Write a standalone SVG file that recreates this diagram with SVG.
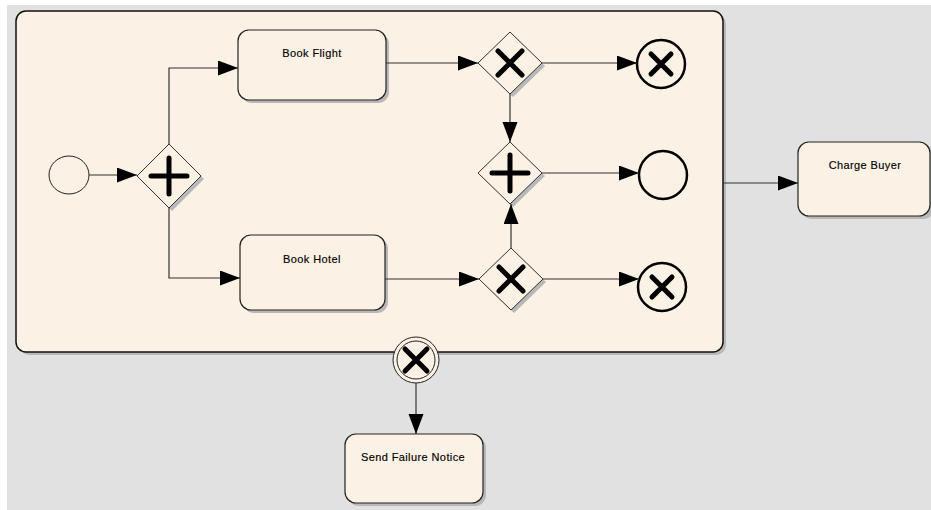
<svg xmlns="http://www.w3.org/2000/svg" width="931" height="510" viewBox="0 0 931 510">
<defs>
<style>
.bg{fill:#e1e1e1}
.sub{fill:#fbf1e4;stroke:#111;stroke-width:1.5}
.shadow{fill:#b8b8b8}
.task{fill:#fbf1e4;stroke:#222;stroke-width:1.2}
.gw{fill:#fbf1e4;stroke:#333;stroke-width:1}
.mark{stroke:#000;stroke-width:5;stroke-linecap:round;fill:none}
.end{fill:#fbf1e4;stroke:#000;stroke-width:2.5}
.thin{fill:#fbf1e4;stroke:#222;stroke-width:1}
.lbl{font-family:"Liberation Sans",Arial,sans-serif;font-size:11px;fill:#000;text-anchor:middle;letter-spacing:0.4px;stroke:#000;stroke-width:0.15}
.conn{fill:none;stroke:#333;stroke-width:1.2}
</style>
<marker id="arr" markerUnits="userSpaceOnUse" markerWidth="20" markerHeight="16" refX="20" refY="7.5" orient="auto">
<path d="M0,0 L20,7.5 L0,15 z" fill="#000"/>
</marker>
</defs>
<rect x="0" y="0" width="931" height="510" fill="#fff"/>
<rect class="bg" x="7" y="5" width="924" height="505"/>

<g id="subprocess">
<rect class="shadow" x="19" y="14" width="707" height="341" rx="10"/>
<rect class="sub" x="16" y="11" width="707" height="341" rx="10"/>
</g>

<g id="start">
<ellipse class="thin" cx="69" cy="175" rx="20" ry="19"/>
</g>

<g id="gw-split">
<polygon class="shadow" points="172,147 204,179 172,211 140,179"/>
<polygon class="gw" points="169,144 201,176 169,208 137,176"/>
<path class="mark" d="M151,176 H187 M169,158 V194"/>
</g>

<g id="book-flight">
<rect class="shadow" x="241" y="33" width="148" height="70" rx="11"/>
<rect class="task" x="238" y="30" width="148" height="70" rx="11"/>
<text class="lbl" x="312" y="57">Book Flight</text>
</g>

<g id="book-hotel">
<rect class="shadow" x="243" y="238" width="145" height="75" rx="11"/>
<rect class="task" x="240" y="235" width="145" height="75" rx="11"/>
<text class="lbl" x="312" y="263">Book Hotel</text>
</g>

<g id="xor1">
<polygon class="shadow" points="513,35 545,66 513,97 481,66"/>
<polygon class="gw" points="510,32 542,63 510,94 478,63"/>
<path class="mark" d="M498,51 L522,75 M522,51 L498,75"/>
</g>

<g id="par2">
<polygon class="shadow" points="513,145 545,176 513,207 481,176"/>
<polygon class="gw" points="510,142 542,173 510,204 478,173"/>
<path class="mark" d="M492,173 H528 M510,155 V191"/>
</g>

<g id="xor2">
<polygon class="shadow" points="514,251 546,282 514,313 482,282"/>
<polygon class="gw" points="511,248 543,279 511,310 479,279"/>
<path class="mark" d="M499,267 L523,291 M523,267 L499,291"/>
</g>

<g id="end1">
<circle class="end" cx="661" cy="64" r="24"/>
<path class="mark" d="M651,54 L671,74 M671,54 L651,74"/>
</g>

<g id="end2">
<circle class="end" cx="663" cy="175" r="24"/>
</g>

<g id="end3">
<circle class="end" cx="662" cy="287" r="24"/>
<path class="mark" d="M652,277 L672,297 M672,277 L652,297"/>
</g>

<g id="boundary">
<circle class="thin" cx="416" cy="360" r="23"/>
<circle class="thin" cx="416" cy="360" r="19"/>
<path class="mark" d="M405,349 L427,371 M427,349 L405,371"/>
</g>

<g id="charge-buyer">
<rect class="shadow" x="801" y="145" width="133" height="74" rx="11"/>
<rect class="task" x="798" y="142" width="132" height="74" rx="11"/>
<text class="lbl" x="865" y="169">Charge Buyer</text>
</g>

<g id="send-failure">
<rect class="shadow" x="348" y="437" width="138" height="69" rx="11"/>
<rect class="task" x="345" y="434" width="138" height="69" rx="11"/>
<text class="lbl" x="413" y="461">Send Failure Notice</text>
</g>

<g id="connectors">
<path class="conn" d="M89,175 H137" marker-end="url(#arr)"/>
<path class="conn" d="M169,144 V68 H238" marker-end="url(#arr)"/>
<path class="conn" d="M169,208 V278 H240" marker-end="url(#arr)"/>
<path class="conn" d="M386,63 H478" marker-end="url(#arr)"/>
<path class="conn" d="M542,63 H637" marker-end="url(#arr)"/>
<path class="conn" d="M510,94 V142" marker-end="url(#arr)"/>
<path class="conn" d="M542,173 H639" marker-end="url(#arr)"/>
<path class="conn" d="M385,279 H479" marker-end="url(#arr)"/>
<path class="conn" d="M511,248 V204" marker-end="url(#arr)"/>
<path class="conn" d="M543,279 H639" marker-end="url(#arr)"/>
<path class="conn" d="M723,183 H798" marker-end="url(#arr)"/>
<path class="conn" d="M416,383 V434" marker-end="url(#arr)"/>
</g>
</svg>
